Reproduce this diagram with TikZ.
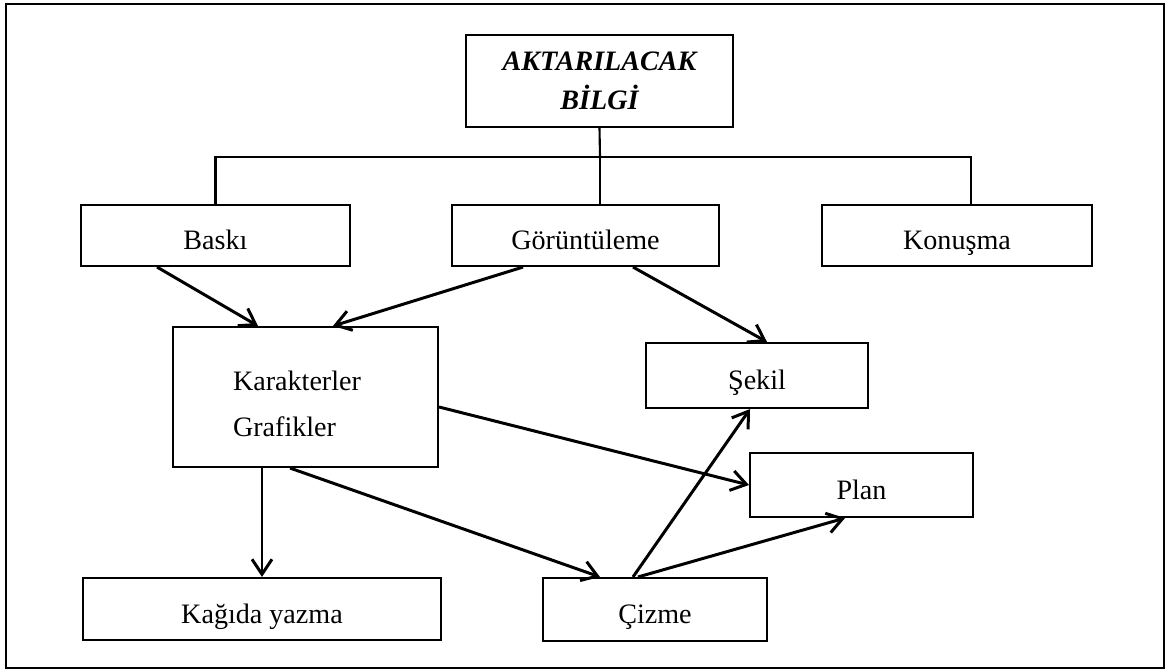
\documentclass[tikz,border=0pt]{standalone}
\usepackage{fontspec}
\setmainfont{Liberation Serif}
\usetikzlibrary{arrows.meta}
\tikzset{
  kutu/.style={draw, line width=1.2pt, rectangle, inner sep=0pt,
    font=\fontsize{16}{26}\selectfont, text height=1.85em, text depth=0.25em},
  ok/.style={-{Straight Barb[length=3mm,width=4mm]}, line width=1.7pt}
}
\begin{document}
\begin{tikzpicture}[x=0.02cm, y=-0.02cm]
            \useasboundingbox (0,0) rectangle (1168,670);
            % Dis cerceve
            \draw[line width=1.2pt] (6,4) rectangle (1164,668);
            % Kutular
            \node[draw, line width=1.2pt, inner sep=0pt, minimum width=5.34cm, minimum height=1.84cm,
              align=center, font=\fontsize{16}{22}\selectfont\bfseries\itshape] (bilgi) at (599.5,81) {AKTARILACAK\\BİLGİ};
            \node[kutu, minimum width=5.38cm, minimum height=1.22cm] (baski) at (215.5,235.5) {Baskı};
            \node[kutu, minimum width=5.34cm, minimum height=1.22cm] (gor) at (585.5,235.5) {Görüntüleme};
            \node[kutu, minimum width=5.4cm, minimum height=1.22cm] (konusma) at (957,235.5) {Konuşma};
            \node[draw, line width=1.2pt, inner sep=0pt, minimum width=5.3cm, minimum height=2.8cm,
              text width=2.9cm, align=left, font=\fontsize{16}{26}\selectfont] (kar) at (305.5,397)
              {\rule{0pt}{1.2em}Karakterler\\Grafikler};
            \node[kutu, minimum width=4.44cm, minimum height=1.3cm] (sekil) at (757,375.5) {Şekil};
            \node[kutu, minimum width=4.46cm, minimum height=1.28cm] (plan) at (861.5,485) {Plan};
            \node[kutu, minimum width=7.16cm, minimum height=1.24cm] (kagit) at (262,609) {Kağıda yazma};
            \node[kutu, minimum width=4.48cm, minimum height=1.26cm] (cizme) at (655,609.5) {Çizme};
            % Dallanma
            \coordinate (dal) at (600,157);
            \coordinate (kdal) at ([xshift=0.28cm]konusma.north);
            \draw[line width=1.2pt] (bilgi.south) -- (dal);
            \draw[line width=1.2pt] (baski.north) -- (baski.north |- dal) -- (kdal |- dal) -- (kdal);
            \draw[line width=1.2pt] (gor.north -| dal) -- (dal);
            % Oklar
            \draw[ok] ([xshift=-1.17cm]baski.south) -- ([xshift=-0.95cm]kar.north);
            \draw[ok] ([xshift=-1.25cm]gor.south) -- ([xshift=0.55cm]kar.north);
            \draw[ok] ([xshift=0.95cm]gor.south) -- ([xshift=0.2cm]sekil.north);
            \draw[ok] ([yshift=-0.2cm]kar.east) -- (plan.west);
            \draw[ok] (kar.south -| kagit.north) -- (kagit.north);
            \draw[ok] ([xshift=-0.31cm]kar.south) -- ([xshift=-1.1cm]cizme.north);
            \draw[ok] ([xshift=-0.44cm]cizme.north) -- ([xshift=-0.14cm]sekil.south);
            \draw[ok] ([xshift=-0.34cm]cizme.north) -- ([xshift=-0.33cm]plan.south);
\end{tikzpicture}
\end{document}
